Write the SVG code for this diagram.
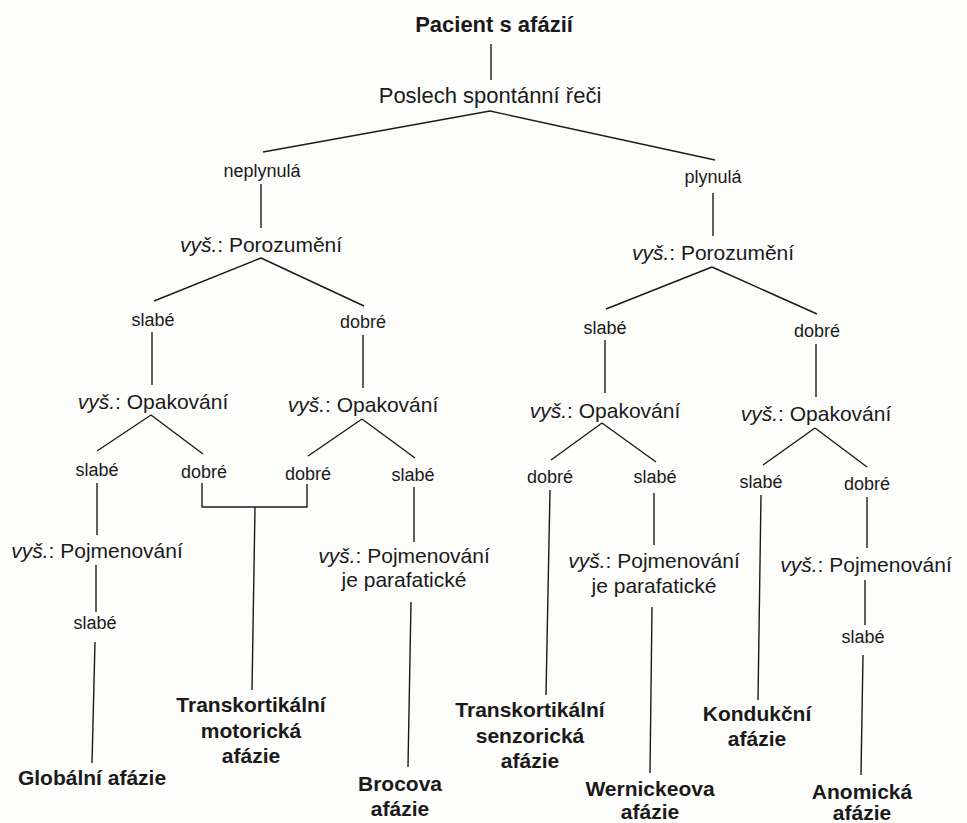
<svg xmlns="http://www.w3.org/2000/svg" width="967" height="823" viewBox="0 0 967 823">
<style>
text{font-family:"Liberation Sans",Arial,sans-serif;fill:#1a1a1a;text-anchor:middle}
.m{font-size:21px}
.t{font-size:22px}
.s{font-size:18px}
.b{font-size:21px;font-weight:bold}
.i{font-style:italic}
#connectors line,#connectors polyline{stroke:#1a1a1a;stroke-width:1.4;fill:none}
</style>
<rect width="967" height="823" fill="#fdfdfc"/>
<g id="connectors">
<line x1="491" y1="44" x2="491" y2="80"/>
<line x1="490" y1="111" x2="263" y2="152"/>
<line x1="490" y1="111" x2="715" y2="160"/>
<line x1="261" y1="184" x2="261" y2="228"/>
<line x1="713" y1="193" x2="713" y2="236"/>
<line x1="261" y1="258" x2="154" y2="301"/>
<line x1="261" y1="258" x2="364" y2="306"/>
<line x1="712" y1="267" x2="606" y2="309"/>
<line x1="712" y1="267" x2="817" y2="314"/>
<line x1="152" y1="332" x2="152" y2="385"/>
<line x1="363" y1="335" x2="363" y2="388"/>
<line x1="605" y1="340" x2="605" y2="393"/>
<line x1="816" y1="344" x2="816" y2="397"/>
<line x1="151" y1="415" x2="97" y2="451"/>
<line x1="151" y1="415" x2="203" y2="454"/>
<line x1="362" y1="419" x2="308" y2="456"/>
<line x1="362" y1="419" x2="415" y2="458"/>
<line x1="602" y1="423" x2="551" y2="460"/>
<line x1="602" y1="423" x2="656" y2="462"/>
<line x1="815" y1="428" x2="763" y2="465"/>
<line x1="815" y1="428" x2="867" y2="467"/>
<line x1="97" y1="483" x2="97" y2="535"/>
<line x1="96" y1="565" x2="96" y2="612"/>
<line x1="95" y1="642" x2="92" y2="763"/>
<polyline points="202,483 202,507 307,507 307,484"/>
<line x1="255" y1="507" x2="252" y2="690"/>
<line x1="414" y1="487" x2="414" y2="542"/>
<line x1="411" y1="602" x2="408" y2="767"/>
<line x1="550" y1="490" x2="546" y2="695"/>
<line x1="654" y1="493" x2="654" y2="545"/>
<line x1="652" y1="607" x2="650" y2="773"/>
<line x1="761" y1="495" x2="758" y2="700"/>
<line x1="867" y1="497" x2="867" y2="548"/>
<line x1="865" y1="580" x2="865" y2="625"/>
<line x1="863" y1="655" x2="861" y2="775"/>
</g>
<g id="root"><text class="b" x="494" y="32" style="font-size:22px">Pacient s afázií</text></g>
<g id="poslech"><text class="t" x="490" y="103">Poslech spontánní řeči</text></g>
<g id="neplynula"><text class="s" x="262" y="177">neplynulá</text></g>
<g id="plynula"><text class="s" x="713" y="183">plynulá</text></g>
<g id="poroz-l"><text class="m" x="261" y="252"><tspan class="i">vyš.</tspan>: Porozumění</text></g>
<g id="poroz-r"><text class="m" x="713" y="260"><tspan class="i">vyš.</tspan>: Porozumění</text></g>
<g id="l-slabe"><text class="s" x="153" y="326">slabé</text></g>
<g id="l-dobre"><text class="s" x="363" y="328">dobré</text></g>
<g id="r-slabe"><text class="s" x="605" y="334">slabé</text></g>
<g id="r-dobre"><text class="s" x="817" y="337">dobré</text></g>
<g id="opak-1"><text class="m" x="153" y="409"><tspan class="i">vyš.</tspan>: Opakování</text></g>
<g id="opak-2"><text class="m" x="363" y="412"><tspan class="i">vyš.</tspan>: Opakování</text></g>
<g id="opak-3"><text class="m" x="605" y="418"><tspan class="i">vyš.</tspan>: Opakování</text></g>
<g id="opak-4"><text class="m" x="816" y="421"><tspan class="i">vyš.</tspan>: Opakování</text></g>
<g id="o1-slabe"><text class="s" x="97" y="476">slabé</text></g>
<g id="o1-dobre"><text class="s" x="204" y="478">dobré</text></g>
<g id="o2-dobre"><text class="s" x="308" y="480">dobré</text></g>
<g id="o2-slabe"><text class="s" x="413" y="481">slabé</text></g>
<g id="o3-dobre"><text class="s" x="550" y="483">dobré</text></g>
<g id="o3-slabe"><text class="s" x="655" y="483">slabé</text></g>
<g id="o4-slabe"><text class="s" x="761" y="488">slabé</text></g>
<g id="o4-dobre"><text class="s" x="867" y="490">dobré</text></g>
<g id="pojm-1"><text class="m" x="97" y="558"><tspan class="i">vyš.</tspan>: Pojmenování</text></g>
<g id="pojm-1-slabe"><text class="s" x="95" y="629">slabé</text></g>
<g id="globalni"><text class="b" x="92" y="785">Globální afázie</text></g>
<g id="tk-motoricka"><text class="b" x="251" y="712">Transkortikální</text><text class="b" x="251" y="738">motorická</text><text class="b" x="251" y="763">afázie</text></g>
<g id="pojm-2"><text class="m" x="404" y="563"><tspan class="i">vyš.</tspan>: Pojmenování</text><text class="m" x="404" y="587">je parafatické</text></g>
<g id="brocova"><text class="b" x="400" y="791">Brocova</text><text class="b" x="400" y="816">afázie</text></g>
<g id="tk-senzoricka"><text class="b" x="530" y="717">Transkortikální</text><text class="b" x="530" y="743">senzorická</text><text class="b" x="530" y="768">afázie</text></g>
<g id="pojm-3"><text class="m" x="654" y="568"><tspan class="i">vyš.</tspan>: Pojmenování</text><text class="m" x="654" y="593">je parafatické</text></g>
<g id="wernickeova"><text class="b" x="650" y="796">Wernickeova</text><text class="b" x="650" y="819">afázie</text></g>
<g id="kondukcni"><text class="b" x="757" y="721">Kondukční</text><text class="b" x="757" y="746">afázie</text></g>
<g id="pojm-4"><text class="m" x="866" y="572"><tspan class="i">vyš.</tspan>: Pojmenování</text></g>
<g id="pojm-4-slabe"><text class="s" x="863" y="643">slabé</text></g>
<g id="anomicka"><text class="b" x="862" y="799">Anomická</text><text class="b" x="862" y="820">afázie</text></g>
</svg>
